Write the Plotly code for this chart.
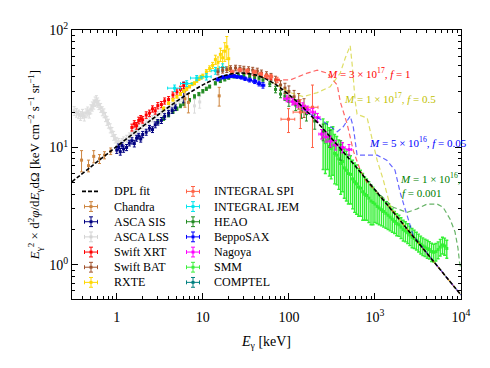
import plotly.graph_objects as go

# --- DPL fit ---
dpl_E = [0.3, 0.5, 1, 2, 3, 5, 7, 10, 15, 20, 25, 30, 40, 50, 70, 100, 150, 200, 300,
         500, 700, 1000, 1500, 2000, 3000, 5000, 7000, 10000]
dpl_y = [5.09, 6.84, 10.2, 15.1, 18.9, 24.8, 29.2, 34.1, 39.2, 41.8, 42.9, 42.9, 41.6, 39.3,
         34.4, 28.2, 21.5, 17.25, 12.4, 8.03, 5.98, 4.36, 3.04, 2.35, 1.633, 1.032, 0.763, 0.554]

# --- PBH model curves ---
red_E = [30, 47, 66, 104, 164, 214, 279, 365, 395, 476, 560, 675, 813, 1000, 1500, 2000, 3000, 5000, 7000, 10000]
red_y = [42.9, 40, 37.6, 37.6, 43, 45.5, 43, 34, 24.6, 15.8, 9.4, 6.4, 5.0, 4.36, 3.04, 2.35, 1.633, 1.032, 0.763, 0.554]
yel_E = [60, 80, 104, 147, 214, 302, 395, 453, 516, 545, 590, 620, 813, 880, 1060, 1250, 1500, 2000, 3000, 5000, 7000, 10000]
yel_y = [36.8, 32.5, 29.3, 27.1, 29.3, 32.9, 43, 58, 73.5, 50, 24.6, 19.2, 17.8, 13.9, 7.8, 5.3, 3.2, 2.35, 1.633, 1.032, 0.763, 0.554]
blu_E = [130, 164, 232, 303, 365, 428, 516, 560, 620, 813, 1060, 1370, 1710, 1970, 2360, 2770, 3370, 5000, 7000, 10000]
blu_y = [24, 19.8, 17.4, 15.0, 13.6, 15.0, 18.5, 15.0, 8.6, 8.6, 8.6, 7.8, 6.4, 4.1, 2.66, 1.8, 1.48, 1.032, 0.763, 0.554]
grn_E = [1000, 1630, 2365, 3090, 4040, 5270, 6190, 7450, 8510, 9220, 9620, 9900]
grn_y = [4.36, 3.1, 2.8, 3.0, 3.3, 3.3, 3.1, 2.46, 1.92, 1.39, 1.05, 0.95]

# --- data sets ---
cha_E = [0.39, 0.47, 0.54, 0.63, 0.72, 0.85, 6.2, 6.8, 15.5]
cha_y = [7.8, 7.0, 8.4, 8.0, 8.6, 9.3, 26, 24.2, 27.5]
cha_err = [1.6, 0.8, 1.0, 0.7, 0.6, 0.6, 4.0, 4.5, 5.0]

sis_E = [1.0, 1.05, 1.1, 1.15, 1.2, 1.3, 1.4, 1.5, 1.6, 1.7, 1.8, 1.9, 2.0, 2.2, 2.4, 2.6, 2.8, 3.0, 3.3, 3.6, 4.0, 4.4, 4.8, 6.0]
sis_y = [9.5, 10.1, 9.2, 10.4, 9.7, 10.0, 10.9, 11.4, 10.8, 12.0, 12.5, 11.8, 12.9, 13.5, 14.6, 14.2, 15.6, 16.4, 17.0, 18.4, 19.6, 20.6, 21.8, 30.0]
sis_err = [0.6, 0.6, 0.6, 0.6, 0.6, 0.6, 0.6, 0.7, 0.7, 0.7, 0.7, 0.7, 0.8, 0.8, 0.8, 0.8, 0.9, 0.9, 1.0, 1.0, 1.1, 1.1, 1.2, 6.0]

lss_E = [0.32, 0.34, 0.36, 0.38, 0.40, 0.42, 0.44, 0.46, 0.48, 0.50, 0.52, 0.54, 0.56, 0.58, 0.60, 0.62,
         0.65, 0.68, 0.71, 0.74, 0.77, 0.80, 0.84, 0.88, 0.92, 0.96, 1.0, 1.05, 1.1, 1.15, 1.2,
         1.3, 1.4, 1.5, 1.6, 1.7, 1.8, 2.0, 2.2, 2.4, 2.6, 2.8, 3.0, 3.3, 3.6, 4.0, 4.4, 4.8, 5.3, 5.8, 8.0, 9.2]
lss_y = [20.5, 19.8, 19.2, 18.6, 19.4, 18.4, 19.6, 20.3, 19.5, 21.2, 22.4, 23.3, 24.6, 25.2, 24.2, 23.1,
         21.8, 20.4, 19.6, 18.2, 16.9, 16.0, 14.6, 13.6, 12.6, 11.9, 11.3, 11.0, 10.7, 11.1, 11.5,
         11.9, 12.5, 13.1, 13.6, 14.1, 14.7, 15.4, 16.2, 16.9, 17.6, 18.3, 19.1, 19.9, 20.8, 21.9, 22.7, 23.6, 24.9, 26.0, 22.6, 24.4]
lss_err = [1.8, 1.7, 1.6, 1.6, 1.7, 1.6, 1.7, 1.8, 1.7, 1.9, 2.0, 2.1, 2.3, 2.4, 2.2, 2.1,
           1.9, 1.8, 1.7, 1.6, 1.5, 1.4, 1.3, 1.2, 1.1, 1.0, 0.9, 0.9, 0.8, 0.8, 0.8,
           0.8, 0.8, 0.9, 0.9, 0.9, 1.0, 1.0, 1.0, 1.1, 1.1, 1.1, 1.2, 1.2, 1.2, 1.3, 1.3, 1.4, 1.4, 1.5, 3.0, 2.8]

xrt_E = [1.5, 1.6, 1.7, 1.8, 1.9, 2.0, 2.2, 2.4, 2.6, 2.8, 3.0, 3.3, 3.6, 4.0, 4.5, 5.0, 5.5, 6.0]
xrt_y = [14.8, 15.9, 15.3, 17.0, 17.6, 17.2, 18.9, 19.6, 21.3, 20.5, 22.7, 23.2, 24.9, 25.6, 28.0, 29.7, 31.3, 33.6]
xrt_err = [1.0, 1.0, 1.0, 1.1, 1.1, 1.1, 1.2, 1.2, 1.3, 1.3, 1.4, 1.4, 1.5, 1.5, 1.7, 1.8, 1.9, 2.0]

bat_E = [15, 17, 19, 21, 24, 27, 30, 34, 38, 43, 48, 55, 62, 70, 80, 90, 100, 115, 130, 150]
bat_y = [44, 45.5, 46, 47, 47.5, 47, 46.5, 46, 45.5, 44.7, 43, 41.5, 40, 37.6, 34, 32, 30, 27, 25, 22]
bat_err = [2.5, 2.5, 2.5, 2.6, 2.6, 2.6, 2.6, 2.6, 2.6, 2.6, 2.6, 2.6, 2.7, 2.8, 3.0, 3.2, 3.4, 3.6, 3.8, 4.0]

rxte_E = [3.5, 4, 4.5, 5, 5.5, 6, 6.5, 7, 7.5, 8, 8.5, 9, 9.5, 10, 11, 12, 13, 14, 15, 16, 17, 18, 19, 20]
rxte_y = [21.5, 23.8, 25.5, 27.0, 28.5, 30.2, 31.5, 33.0, 34.6, 35.2, 37.0, 38.5, 39.6, 40.5, 44.0, 47.0,
          50.0, 56.0, 53.0, 62.0, 58.0, 66.0, 72.0, 57.0]
rxte_err = [0.6, 0.6, 0.7, 0.7, 0.8, 0.8, 0.9, 0.9, 1.0, 1.0, 1.2, 1.3, 1.5, 1.6, 2.0, 2.5,
            3.0, 5.0, 6.0, 8.0, 9.0, 12.0, 16.0, 12.0]

spi_E = [22, 27, 33, 40, 47, 55, 62, 73, 99, 136, 188]
spi_y = [44, 45.5, 45, 44, 42, 40.5, 40, 37.6, 17.4, 20, 22]
spi_err = [1.5, 1.5, 1.5, 1.5, 1.6, 1.7, 1.8, 2.0, 4.0, 5.5, 12.0]
spi_xerr = [1, 1.5, 1.5, 2, 2.5, 3, 3, 4, 18, 24, 30]

jem_E = [4.7, 6.5, 8.5, 11, 14, 17]
jem_y = [32, 35, 39, 40, 45, 48]
jem_err = [2, 2, 2, 2.5, 3, 3.5]
jem_xerr = [0.8, 1.0, 1.3, 1.5, 1.5, 1.5]

heao_E = [3, 3.5, 4, 4.5, 5, 5.5, 6, 7, 8, 9, 10, 11, 12, 14, 16, 18, 20, 23, 26, 30, 35, 40, 45, 50,
          60, 70, 80, 90, 100, 120, 140, 160, 200, 250, 300, 400]
heao_y = [16.5, 17.6, 18.9, 20.2, 21.4, 22.6, 23.5, 25.3, 27.2, 28.5, 30.1, 31.6, 33.0, 35.2, 36.8, 38.0,
          39.3, 40.2, 40.8, 41.0, 40.6, 40.0, 39.0, 37.6, 34.8, 31.2, 28.5, 27.4, 24.6, 23.0, 20.2, 19.4,
          16.8, 13.6, 12.0, 9.6]
heao_err = [0.6, 0.6, 0.7, 0.7, 0.7, 0.8, 0.8, 0.8, 0.9, 0.9, 1.0, 1.0, 1.0, 1.1, 1.1, 1.2, 1.2, 1.2,
            1.3, 1.3, 1.3, 1.4, 1.5, 1.6, 1.8, 2.0, 2.0, 2.2, 2.2, 2.4, 2.5, 2.6, 2.5, 2.2, 2.0, 1.8]

sax_E = [15, 17, 19, 21, 23, 25, 28, 31, 35, 40, 45, 50]
sax_y = [38, 39.5, 40, 40.5, 40.5, 40, 39.5, 38.5, 37.5, 36.5, 35, 33.8]
sax_err = [1.2, 1.2, 1.2, 1.2, 1.2, 1.2, 1.3, 1.3, 1.4, 1.5, 1.6, 1.8]
sax_xerr = [0.8, 0.9, 1, 1, 1, 1.2, 1.3, 1.5, 1.8, 2, 2.2, 2.5]

nag_E = [95, 110, 125, 145, 165, 190, 215, 240, 270, 305, 350, 420, 500]
nag_y = [26, 24.5, 23.5, 22.5, 21, 20, 18, 13, 12.3, 11.3, 10.5, 10, 9.6]
nag_err = [1.5, 1.5, 1.5, 1.5, 1.5, 1.5, 1.5, 1.2, 1.2, 1.2, 1.0, 1.0, 1.0]
nag_xerr = [8, 9, 10, 11, 12, 14, 15, 17, 19, 21, 25, 30, 36]

smm_E = [250, 265, 280, 295, 310, 325, 340, 360, 380, 400, 420, 440, 465, 490, 520, 550, 580, 610, 645, 680,
         720, 760, 800, 850, 900, 950, 1000, 1060, 1120, 1190, 1260, 1340, 1420, 1500, 1590, 1690, 1790, 1900,
         2010, 2130, 2260, 2400, 2540, 2700, 2860, 3030, 3210, 3400, 3600, 3820, 4050, 4290, 4550, 4820, 5110,
         5420, 5740, 6090, 6450, 6840]
smm_y = [12.0, 11.0, 11.5, 10.2, 9.8, 10.4, 8.9, 8.6, 8.0, 7.3, 7.6, 6.7, 6.4, 6.0, 5.9, 5.4, 5.1, 4.9, 4.6, 4.5,
         4.2, 4.0, 3.9, 3.7, 3.5, 3.4, 3.3, 3.15, 3.05, 2.95, 2.85, 2.75, 2.65, 2.55, 2.45, 2.35, 2.25, 2.2,
         2.1, 2.0, 1.95, 1.88, 1.8, 1.72, 1.68, 1.62, 1.56, 1.5, 1.45, 1.42, 1.38, 1.35, 1.3, 1.28, 1.3,
         1.35, 1.42, 1.48, 1.45, 1.38]
smm_err = [5.5, 5.0, 5.0, 4.5, 4.4, 4.6, 4.0, 3.8, 3.6, 3.3, 3.4, 3.0, 2.9, 2.7, 2.6, 2.4, 2.3, 2.2, 2.0, 1.9,
           1.8, 1.6, 1.5, 1.4, 1.3, 1.2, 1.0, 0.9, 0.85, 0.8, 0.75, 0.7, 0.65, 0.6, 0.55, 0.5, 0.48, 0.45,
           0.42, 0.4, 0.38, 0.36, 0.34, 0.32, 0.3, 0.28, 0.27, 0.26, 0.25, 0.24, 0.24, 0.23, 0.23, 0.22, 0.22,
           0.22, 0.23, 0.24, 0.24, 0.24]

FONT = "Times New Roman, Liberation Serif, DejaVu Serif, serif"
fig = go.Figure()


def add_data(E, y, err, color, xerr=None, bar=1):
    tr = go.Scatter(x=E, y=y, mode="markers", showlegend=False,
                    marker=dict(symbol="square", size=3, color=color),
                    error_y=dict(type="data", array=err, thickness=bar, width=1.5, color=color))
    if xerr is not None:
        tr.error_x = dict(type="data", array=xerr, thickness=1, width=1.5, color=color)
    fig.add_trace(tr)


add_data(lss_E, lss_y, lss_err, "#dcdcdc")
add_data(smm_E, smm_y, smm_err, "#33f033", bar=1.4)
add_data(heao_E, heao_y, heao_err, "#228b22")
add_data(sis_E, sis_y, sis_err, "#000080")
add_data(cha_E, cha_y, cha_err, "#cd853f")
add_data(xrt_E, xrt_y, xrt_err, "#ff0000")
add_data(rxte_E, rxte_y, rxte_err, "#ffd700")
add_data(jem_E, jem_y, jem_err, "#00e5ee", jem_xerr)
add_data(bat_E, bat_y, bat_err, "#a0522d")
add_data(sax_E, sax_y, sax_err, "#0000ff", sax_xerr)
add_data(spi_E, spi_y, spi_err, "#ff6347", spi_xerr)
add_data(nag_E, nag_y, nag_err, "#ff00ff", nag_xerr)

for E, y, c in [(red_E, red_y, "rgba(255,0,0,0.6)"), (yel_E, yel_y, "rgba(200,200,0,0.6)"),
                (blu_E, blu_y, "rgba(0,0,255,0.6)"), (grn_E, grn_y, "rgba(0,128,0,0.6)")]:
    fig.add_trace(go.Scatter(x=E, y=y, mode="lines", showlegend=False,
                             line=dict(color=c, width=1.2, dash="5px,3px")))

fig.add_trace(go.Scatter(x=dpl_E, y=dpl_y, mode="lines", showlegend=False, line_shape="spline",
                         line=dict(color="black", width=1.6, dash="4px,2px")))

# page body has an 8px margin, so the figure is shrunk by that much
PAGE = 8
L, T, W, H = 72, 24, 389, 275   # plot area in screen pixels


def px(xp):
    return (xp - L) / W


def py(yp):
    return (T + H - yp) / H


# --- hand-built two column legend ---
leg_cols = [
    [("DPL fit", None), ("Chandra", "#cd853f"), ("ASCA SIS", "#000080"), ("ASCA LSS", "#d3d3d3"),
     ("Swift XRT", "#ff0000"), ("Swift BAT", "#a0522d"), ("RXTE", "#ffd700")],
    [("INTEGRAL SPI", "#ff6347"), ("INTEGRAL JEM", "#00e5ee"), ("HEAO", "#228b22"), ("BeppoSAX", "#0000ff"),
     ("Nagoya", "#ff00ff"), ("SMM", "#3cf03c"), ("COMPTEL", "#008080")],
]
shapes = []
annotations = []
for col, (cx, tx) in zip(leg_cols, [(91, 112), (193, 212)]):
    for i, (name, c) in enumerate(col):
        cy = 189 + 15.5 * i
        if c is None:
            shapes.append(dict(type="line", xref="paper", yref="paper", x0=px(82), x1=px(100),
                               y0=py(cy), y1=py(cy), line=dict(color="black", width=1.6, dash="4px,2px")))
        else:
            segs = [(cx - 6.5, cy, cx + 6.5, cy), (cx, cy - 5, cx, cy + 5),
                    (cx - 6.5, cy - 2, cx - 6.5, cy + 2), (cx + 6.5, cy - 2, cx + 6.5, cy + 2),
                    (cx - 2, cy - 5, cx + 2, cy - 5), (cx - 2, cy + 5, cx + 2, cy + 5)]
            for x0, y0, x1, y1 in segs:
                shapes.append(dict(type="line", xref="paper", yref="paper", x0=px(x0), x1=px(x1),
                                   y0=py(y0), y1=py(y1), line=dict(color=c, width=1)))
            shapes.append(dict(type="rect", xref="paper", yref="paper", x0=px(cx - 1.5), x1=px(cx + 1.5),
                               y0=py(cy - 1.5), y1=py(cy + 1.5), fillcolor=c, line=dict(width=0)))
        annotations.append(dict(text=name, xref="paper", yref="paper", x=px(tx), y=py(cy),
                                xanchor="left", yanchor="middle", showarrow=False,
                                font=dict(family=FONT, size=12, color="black")))

# --- model labels ---
labels = [
    ("<i>M</i> = 3 × 10<sup>17</sup>, <i>f</i> = 1", "#ff0000", 325, 68),
    ("<i>M</i> = 1 × 10<sup>17</sup>, <i>f</i> = 0.5", "#bfbf00", 342, 94),
    ("<i>M</i> = 5 × 10<sup>16</sup>, <i>f</i> = 0.05", "#0000ff", 367, 138),
    ("<i>M</i> = 1 × 10<sup>16</sup>,", "#008000", 398, 175),
    ("<i>f</i> = 0.001", "#008000", 400, 191),
]
for t, c, xp, yp in labels:
    annotations.append(dict(text=t, xref="paper", yref="paper", x=px(xp), y=py(yp),
                            xanchor="left", yanchor="middle", showarrow=False,
                            font=dict(family=FONT, size=11, color=c)))

x_minor = [m * d for d in [0.1, 1, 10, 100, 1000] for m in range(2, 10)]
y_minor = [m * d for d in [0.1, 1, 10] for m in range(2, 10)]

axis_common = dict(type="log", ticks="inside", ticklen=6, tickwidth=1, tickcolor="black",
                   showline=True, linecolor="black", linewidth=1, mirror="allticks",
                   showgrid=False, zeroline=False,
                   tickfont=dict(family=FONT, size=14, color="black"))

fig.update_layout(
    width=490 - PAGE, height=368 - PAGE,
    margin=dict(l=L - PAGE, r=490 - L - W, t=T - PAGE, b=368 - T - H),
    paper_bgcolor="white", plot_bgcolor="white",
    font=dict(family=FONT, color="black"),
    showlegend=False,
    shapes=shapes,
    annotations=annotations,
    xaxis=dict(axis_common, range=[-0.52, 4],
               tickvals=[1, 10, 100, 1000, 10000],
               ticktext=["1", "10", "100", "10<sup>3</sup>", "10<sup>4</sup>"],
               ticklabelstandoff=5,
               minor=dict(tickvals=x_minor, ticks="inside", ticklen=3, tickcolor="black", showgrid=False),
               title=dict(text="<i>E</i><sub>γ</sub> [keV]", font=dict(family=FONT, size=14), standoff=12)),
    yaxis=dict(axis_common, range=[-0.29, 2],
               tickvals=[1, 10, 100],
               ticktext=["10<sup>0</sup>", "10<sup>1</sup>", "10<sup>2</sup>"],
               minor=dict(tickvals=y_minor, ticks="inside", ticklen=3, tickcolor="black", showgrid=False),
               title=dict(text="<i>E</i><sub>γ</sub><sup>2</sup> × d<sup>2</sup><i>φ</i>/d<i>E</i><sub>γ</sub>dΩ"
                               " [keV cm<sup>−2</sup> s<sup>−1</sup> sr<sup>−1</sup>]",
                          font=dict(family=FONT, size=13), standoff=6)),
)

fig.write_html("out.html")
